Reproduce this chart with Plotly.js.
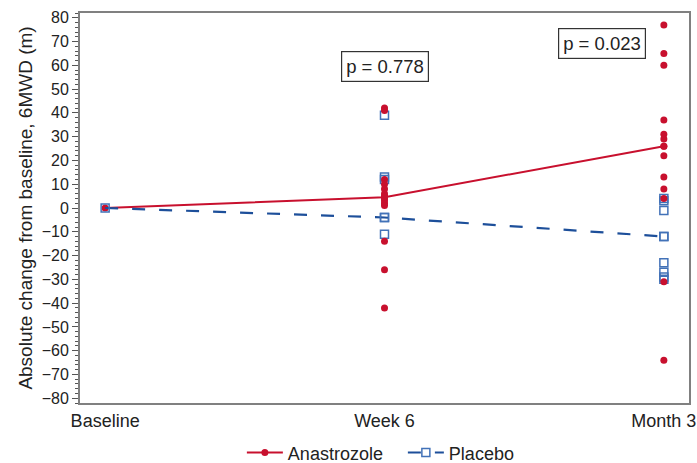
<!DOCTYPE html>
<html>
<head>
<meta charset="utf-8">
<script src="https://cdn.plot.ly/plotly-3.0.1.min.js"></script>
<style>html,body{margin:0;padding:0;background:#fff;}#chart{width:697px;height:463px;}</style>
</head>
<body>
<div id="chart"></div>
<script>
// Time points
const timepoints = ["Baseline", "Week 6", "Month 3"];
const timeIndex = [0, 1, 2];

// Group means (lines)
const anastrozoleMean = [0, 4.5, 26];
const placeboMean = [0, -4, -12];

// Individual values
const anastrozoleWeek6 = [42, 41, 12, 10, 8, 6, 5, 4, 3, 2, 1, -14, -26, -42];
const placeboWeek6 = [39, 13, 12, -4, -11];
const anastrozoleMonth3 = [77, 65, 60, 37, 31, 29, 26, 22, 13, 8, 4, -31, -64];
const placeboMonth3 = [4, 3, -1, -12, -23, -27, -29, -30];

// p-values
const pLabels = ["p = 0.778", "p = 0.023"];

const red = "#c8102e";
const blueLine = "#1d4f9a";
const blueMarker = "#4272b8";

function rep(v, n) { return new Array(n).fill(v); }

const traces = [
  {
    x: rep(timeIndex[1], placeboWeek6.length).concat(rep(timeIndex[2], placeboMonth3.length)),
    y: placeboWeek6.concat(placeboMonth3),
    mode: "markers", type: "scatter", showlegend: false, hoverinfo: "skip",
    marker: {symbol: "square-open", size: 8, color: blueMarker, line: {width: 1.5, color: blueMarker}}
  },
  {
    x: rep(timeIndex[1], anastrozoleWeek6.length).concat(rep(timeIndex[2], anastrozoleMonth3.length)),
    y: anastrozoleWeek6.concat(anastrozoleMonth3),
    mode: "markers", type: "scatter", showlegend: false, hoverinfo: "skip",
    marker: {symbol: "circle", size: 7, color: red}
  },
  {
    x: timeIndex, y: anastrozoleMean, name: "Anastrozole",
    mode: "lines+markers", type: "scatter",
    line: {color: red, width: 2},
    marker: {symbol: "circle", size: 7, color: red}
  },
  {
    x: timeIndex, y: placeboMean, name: "Placebo",
    mode: "lines+markers", type: "scatter",
    line: {color: blueLine, width: 2.2, dash: "13px,14px"},
    marker: {symbol: "square-open", size: 8, color: blueMarker, line: {width: 1.5, color: blueMarker}}
  }
];

const fontFam = "Liberation Sans, Arial, sans-serif";

const layout = {
  width: 697, height: 463,
  margin: {l: 80, r: 8, t: 13, b: 60, autoexpand: false},
  paper_bgcolor: "#fff", plot_bgcolor: "#fff",
  font: {family: fontFam, size: 16, color: "#222"},
  showlegend: true,
  legend: {orientation: "h", x: 0.578, xanchor: "center", xref: "container",
           y: 0.022, yanchor: "middle", yref: "container", itemwidth: 36,
           entrywidth: 110, entrywidthmode: "pixels",
           font: {size: 18, color: "#222"}, traceorder: "normal"},
  xaxis: {
    range: [-0.09, 2.09], tickvals: timeIndex, ticktext: timepoints,
    showgrid: false, zeroline: false, ticks: "",
    showline: true, linecolor: "#808080", linewidth: 2, mirror: true,
    tickfont: {size: 18, color: "#222"}
  },
  yaxis: {
    range: [-82, 82], tickvals: [80,70,60,50,40,30,20,10,0,-10,-20,-30,-40,-50,-60,-70,-80],
    showgrid: false, zeroline: false,
    ticks: "outside", ticklen: 6, tickwidth: 1, tickcolor: "#555",
    minor: {dtick: 2, ticks: "outside", ticklen: 3, tickcolor: "#555", showgrid: false},
    showline: true, linecolor: "#808080", linewidth: 2, mirror: true,
    tickfont: {size: 16, color: "#222"},
    title: {text: "Absolute change from baseline, 6MWD (m)", font: {size: 19, color: "#222"}, standoff: 4}
  },
  annotations: [
    {x: timeIndex[1], y: 59.6, xref: "x", yref: "y", text: pLabels[0], showarrow: false,
     font: {size: 18.5, color: "#222"}, bordercolor: "#333", borderwidth: 1.2, borderpad: 4, bgcolor: "#fff"},
    {x: 1.778, y: 69, xref: "x", yref: "y", text: pLabels[1], showarrow: false,
     font: {size: 18.5, color: "#222"}, bordercolor: "#333", borderwidth: 1.2, borderpad: 4, bgcolor: "#fff"}
  ]
};

Plotly.newPlot("chart", traces, layout, {staticPlot: true, displayModeBar: false});
</script>
</body>
</html>
